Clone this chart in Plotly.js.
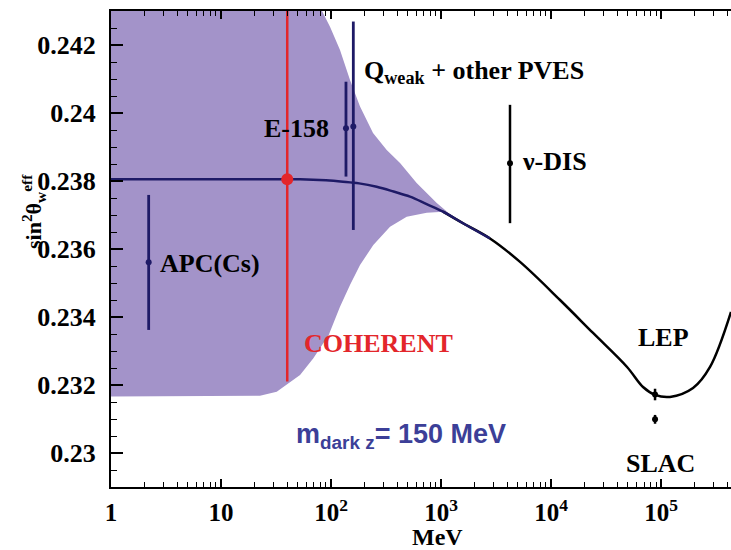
<!DOCTYPE html>
<html>
<head>
<meta charset="utf-8">
<script src="https://cdn.plot.ly/plotly-3.0.1.min.js"></script>
<style>html,body{margin:0;padding:0;background:#fff;}#chart{width:731px;height:550px;}</style>
</head>
<body>
<div id="chart"></div>
<script>
// ---- data ----
const curveX = [1, 10, 30, 52.3, 90, 128.6, 180, 260, 370, 522, 740, 1042, 1600, 2786, 5227, 12070, 24100, 49100, 68600, 88200, 120700, 195500, 278900, 432700];
const curveY = [0.23805, 0.23805, 0.23805, 0.23805, 0.23802, 0.23798, 0.23793, 0.23783, 0.23769, 0.23754, 0.23732, 0.23710, 0.23675, 0.23631, 0.23562, 0.23450, 0.23353, 0.23253, 0.23194, 0.23171, 0.23165, 0.23191, 0.23253, 0.23415];

const bandUpperX = [1, 52.3, 70, 82.8, 97.9, 120.7, 148.8, 183.5, 240.9, 320.9, 424, 600.6, 914.5, 1341];
const bandUpperY = [0.24421, 0.24421, 0.2436, 0.2430, 0.24254, 0.24185, 0.24097, 0.24019, 0.23941, 0.23891, 0.23853, 0.23794, 0.23735, 0.23690];
const bandLowerX = [1, 22.6, 32.1, 39.6, 52.3, 69.1, 95.3, 120.7, 148.8, 183.5, 242.4, 343.9, 487.5, 741.3, 1049, 1341];
const bandLowerY = [0.23166, 0.231685, 0.231803, 0.232, 0.232294, 0.232785, 0.233471, 0.234303, 0.234941, 0.235529, 0.236118, 0.236656, 0.23695, 0.237068, 0.237097, 0.23690];

const coherentX = [40, 40];
const coherentY = [0.2321, 0.2435];
const coherentDotX = [40];
const coherentDotY = [0.23805];

const lowNames = ["APC(Cs)", "E-158", "Qweak"];
const lowX = [2.2, 136.8, 159.5];
const lowY = [0.23561, 0.23955, 0.23960];
const lowErrPlus = [0.00198, 0.00137, 0.00309];
const lowErrMinus = [0.00199, 0.00142, 0.00304];

const highNames = ["nu-DIS", "LEP", "SLAC"];
const highX = [4237, 88200, 88200];
const highY = [0.23852, 0.23172, 0.23099];
const highErrPlus = [0.00172, 0.00017, 0.00013];
const highErrMinus = [0.00176, 0.00017, 0.00013];

const xTickVals = [1, 10, 100, 1000, 10000, 100000];
const xTickText = ["1", "10", "10<sup>2</sup>", "10<sup>3</sup>", "10<sup>4</sup>", "10<sup>5</sup>"];
const yTickVals = [0.23, 0.232, 0.234, 0.236, 0.238, 0.24, 0.242];
const yTickText = ["0.23", "0.232", "0.234", "0.236", "0.238", "0.24", "0.242"];

// ---- styling ----
const SERIF = "Liberation Serif, Times New Roman, serif";
const SANS = "Liberation Sans, Arial, sans-serif";
const PURPLE = "#a393c9";
const NAVY = "#1e1a66";
const RED = "#e3262b";

const xMinor = [];
for (let d = 0; d < 6; d++) for (let k = 2; k <= 9; k++) xMinor.push(k * Math.pow(10, d));
const yMinor = [];
for (let i = 0; i <= 28; i++) { const v = +(0.229 + i * 0.0005).toFixed(4); if (Math.round(v * 1e4) % 20 !== 0) yMinor.push(v); }

const bandX = bandUpperX.concat(bandLowerX.slice().reverse());
const bandY = bandUpperY.concat(bandLowerY.slice().reverse());

const traces = [
  {x: bandX, y: bandY, type: 'scatter', mode: 'lines', fill: 'toself', fillcolor: PURPLE, line: {width: 0, color: PURPLE}, hoverinfo: 'skip'},
  {x: curveX.filter(v => v >= 900), y: curveY.filter((v, i) => curveX[i] >= 900), type: 'scatter', mode: 'lines', line: {color: '#000', width: 2.5, shape: 'spline'}},
  {x: curveX.filter(v => v <= 2800), y: curveY.filter((v, i) => curveX[i] <= 2800), type: 'scatter', mode: 'lines', line: {color: NAVY, width: 2.5, shape: 'spline'}},
  {x: coherentX, y: coherentY, type: 'scatter', mode: 'lines', line: {color: RED, width: 2.5}},
  {x: coherentDotX, y: coherentDotY, type: 'scatter', mode: 'markers', marker: {color: RED, size: 12}},
  {x: lowX, y: lowY, text: lowNames, type: 'scatter', mode: 'markers', marker: {color: NAVY, size: 6},
   error_y: {type: 'data', symmetric: false, array: lowErrPlus, arrayminus: lowErrMinus, width: 0, thickness: 2.8, color: NAVY}},
  {x: highX, y: highY, text: highNames, type: 'scatter', mode: 'markers', marker: {color: '#000', size: 6},
   error_y: {type: 'data', symmetric: false, array: highErrPlus, arrayminus: highErrMinus, width: 0, thickness: 2.5, color: '#000'}}
];

const L = 111, T = 11, PW = 620, PH = 476;
function P(px, py) { return {x: (px - L) / PW, y: (T + PH - py) / PH}; }
function ann(text, px, py, opts) {
  const p = P(px, py);
  return Object.assign({text: text, x: p.x, y: p.y, xref: 'paper', yref: 'paper', showarrow: false,
    xanchor: 'left', yanchor: 'middle', font: {family: SERIF, size: 26, color: '#000', weight: 700}}, opts || {});
}

const annotations = [
  ann("APC(Cs)", 158, 263),
  ann("E-158", 262, 128),
  ann("Q<sub>weak</sub> + other PVES", 362, 72),
  ann("ν-DIS", 520, 161),
  ann("COHERENT", 302, 343, {font: {family: SERIF, size: 26, color: RED, weight: 700}}),
  ann("m<sub>dark z</sub>= 150 MeV", 294, 436, {font: {family: SANS, size: 27, color: '#3c3f98', weight: 700}}),
  ann("LEP", 663, 337, {xanchor: 'center'}),
  ann("SLAC", 660, 463, {xanchor: 'center'}),
  ann("MeV", 437, 537, {xanchor: 'center', yanchor: 'middle', font: {family: SERIF, size: 24, color: '#000', weight: 700}}),
  ann("sin<sup>2</sup>θ<sub>w</sub><sup>eff</sup>", 33, 212, {xanchor: 'center', textangle: -90, font: {family: SERIF, size: 22, color: '#000', weight: 700}})
];

const layout = {
  width: 731, height: 550,
  margin: {l: L, r: 0, t: T, b: 550 - T - PH},
  paper_bgcolor: '#fff', plot_bgcolor: '#fff',
  showlegend: false,
  xaxis: {
    type: 'log', range: [0, 5.636], tickmode: 'array', tickvals: xTickVals, ticktext: xTickText,
    ticks: 'inside', ticklen: 8, tickwidth: 1.5, tickcolor: '#000',
    showline: true, linecolor: '#000', linewidth: 2, mirror: 'ticks', showgrid: false, zeroline: false,
    tickfont: {family: SERIF, size: 25, color: '#000', weight: 700}, ticklabelstandoff: 2,
    minor: {tickmode: 'array', tickvals: xMinor, ticks: 'inside', ticklen: 5, tickwidth: 1, tickcolor: '#000', showgrid: false}
  },
  yaxis: {
    range: [0.229, 0.243], tickmode: 'array', tickvals: yTickVals, ticktext: yTickText,
    ticks: 'inside', ticklen: 12, tickwidth: 1.5, tickcolor: '#000',
    showline: true, linecolor: '#000', linewidth: 2, mirror: false, showgrid: false, zeroline: false,
    tickfont: {family: SERIF, size: 26, color: '#000', weight: 700}, ticklabelstandoff: 8,
    minor: {tickmode: 'array', tickvals: yMinor, ticks: 'inside', ticklen: 6, tickwidth: 1, tickcolor: '#000', showgrid: false}
  },
  annotations: annotations
};

Plotly.newPlot('chart', traces, layout, {staticPlot: true, displayModeBar: false});
</script>
</body>
</html>
